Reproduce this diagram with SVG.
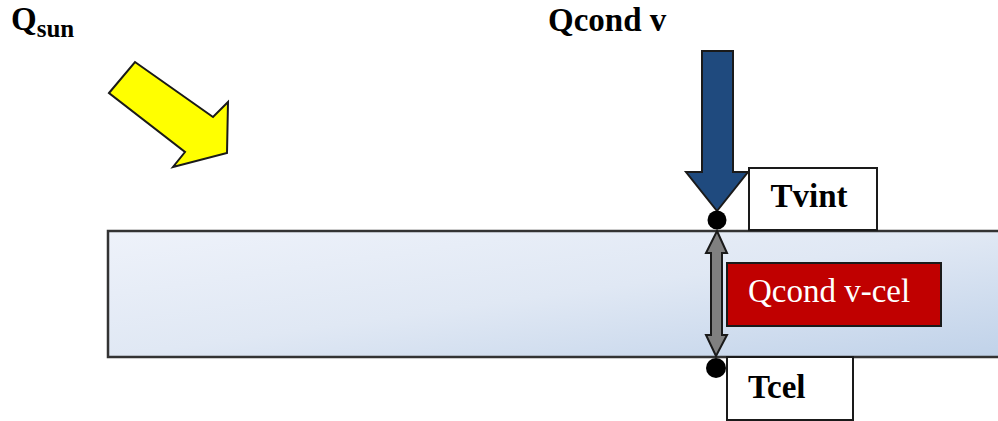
<svg xmlns="http://www.w3.org/2000/svg" width="998" height="421" viewBox="0 0 998 421">
  <defs>
    <linearGradient id="slabFill" x1="0" y1="0" x2="1" y2="1">
      <stop offset="0" stop-color="#eef2fa"/>
      <stop offset="0.5" stop-color="#e0e8f4"/>
      <stop offset="1" stop-color="#c0d2e9"/>
    </linearGradient>
    <style>
      .outline { stroke: #1a1a1a; stroke-width: 2; stroke-linejoin: miter; }
      .label { font-family: "Liberation Serif", "Times New Roman", serif; font-weight: bold; font-size: 33px; fill: #000; }
      .box { fill: #fff; stroke: #1a1a1a; stroke-width: 2; }
    </style>
  </defs>

  <rect width="998" height="421" fill="#fff"/>

  <!-- glass layer -->
  <g id="slab">
    <rect x="108" y="231" width="900" height="126" fill="url(#slabFill)" stroke="#333" stroke-width="2.5"/>
  </g>

  <!-- solar gain -->
  <g id="q-sun">
    <text x="11" y="30" class="label" font-size="27">Q<tspan font-size="25" dy="7">sun</tspan></text>
    <polygon class="outline" fill="#ffff00" points="109,93 135,62 213,117 228,102 227,153 173,167 185,152"/>
  </g>

  <!-- conduction into the glass -->
  <g id="q-cond-v">
    <text x="548" y="31" class="label">Qcond v</text>
    <polygon class="outline" fill="#1f4a7e" points="702,51 733,51 733,172 748,172 717,211 686,172 702,172"/>
  </g>

  <g id="t-vint">
    <rect class="box" x="749" y="168" width="128" height="62"/>
    <text x="809" y="207" class="label" text-anchor="middle">Tvint</text>
  </g>

  <!-- conduction through the glass -->
  <g id="connectors">
    <polygon class="outline" fill="#808080" points="717,231 727,253 722,253 722,335 727,335 716,356 706,335 711,335 711,253 706,253"/>
    <circle cx="717" cy="220" r="9.5" fill="#000"/>
    <circle cx="716" cy="368" r="10" fill="#000"/>
  </g>

  <g id="q-cond-v-cel">
    <rect x="727" y="263" width="214" height="63" fill="#c00000" stroke="#1a1a1a" stroke-width="2"/>
    <text x="748" y="302" font-family="Liberation Serif, Times New Roman, serif" font-size="33" fill="#fff">Qcond v-cel</text>
  </g>

  <g id="t-cel">
    <rect class="box" x="727" y="357" width="126" height="63"/>
    <text x="748" y="398" class="label">Tcel</text>
  </g>
</svg>
